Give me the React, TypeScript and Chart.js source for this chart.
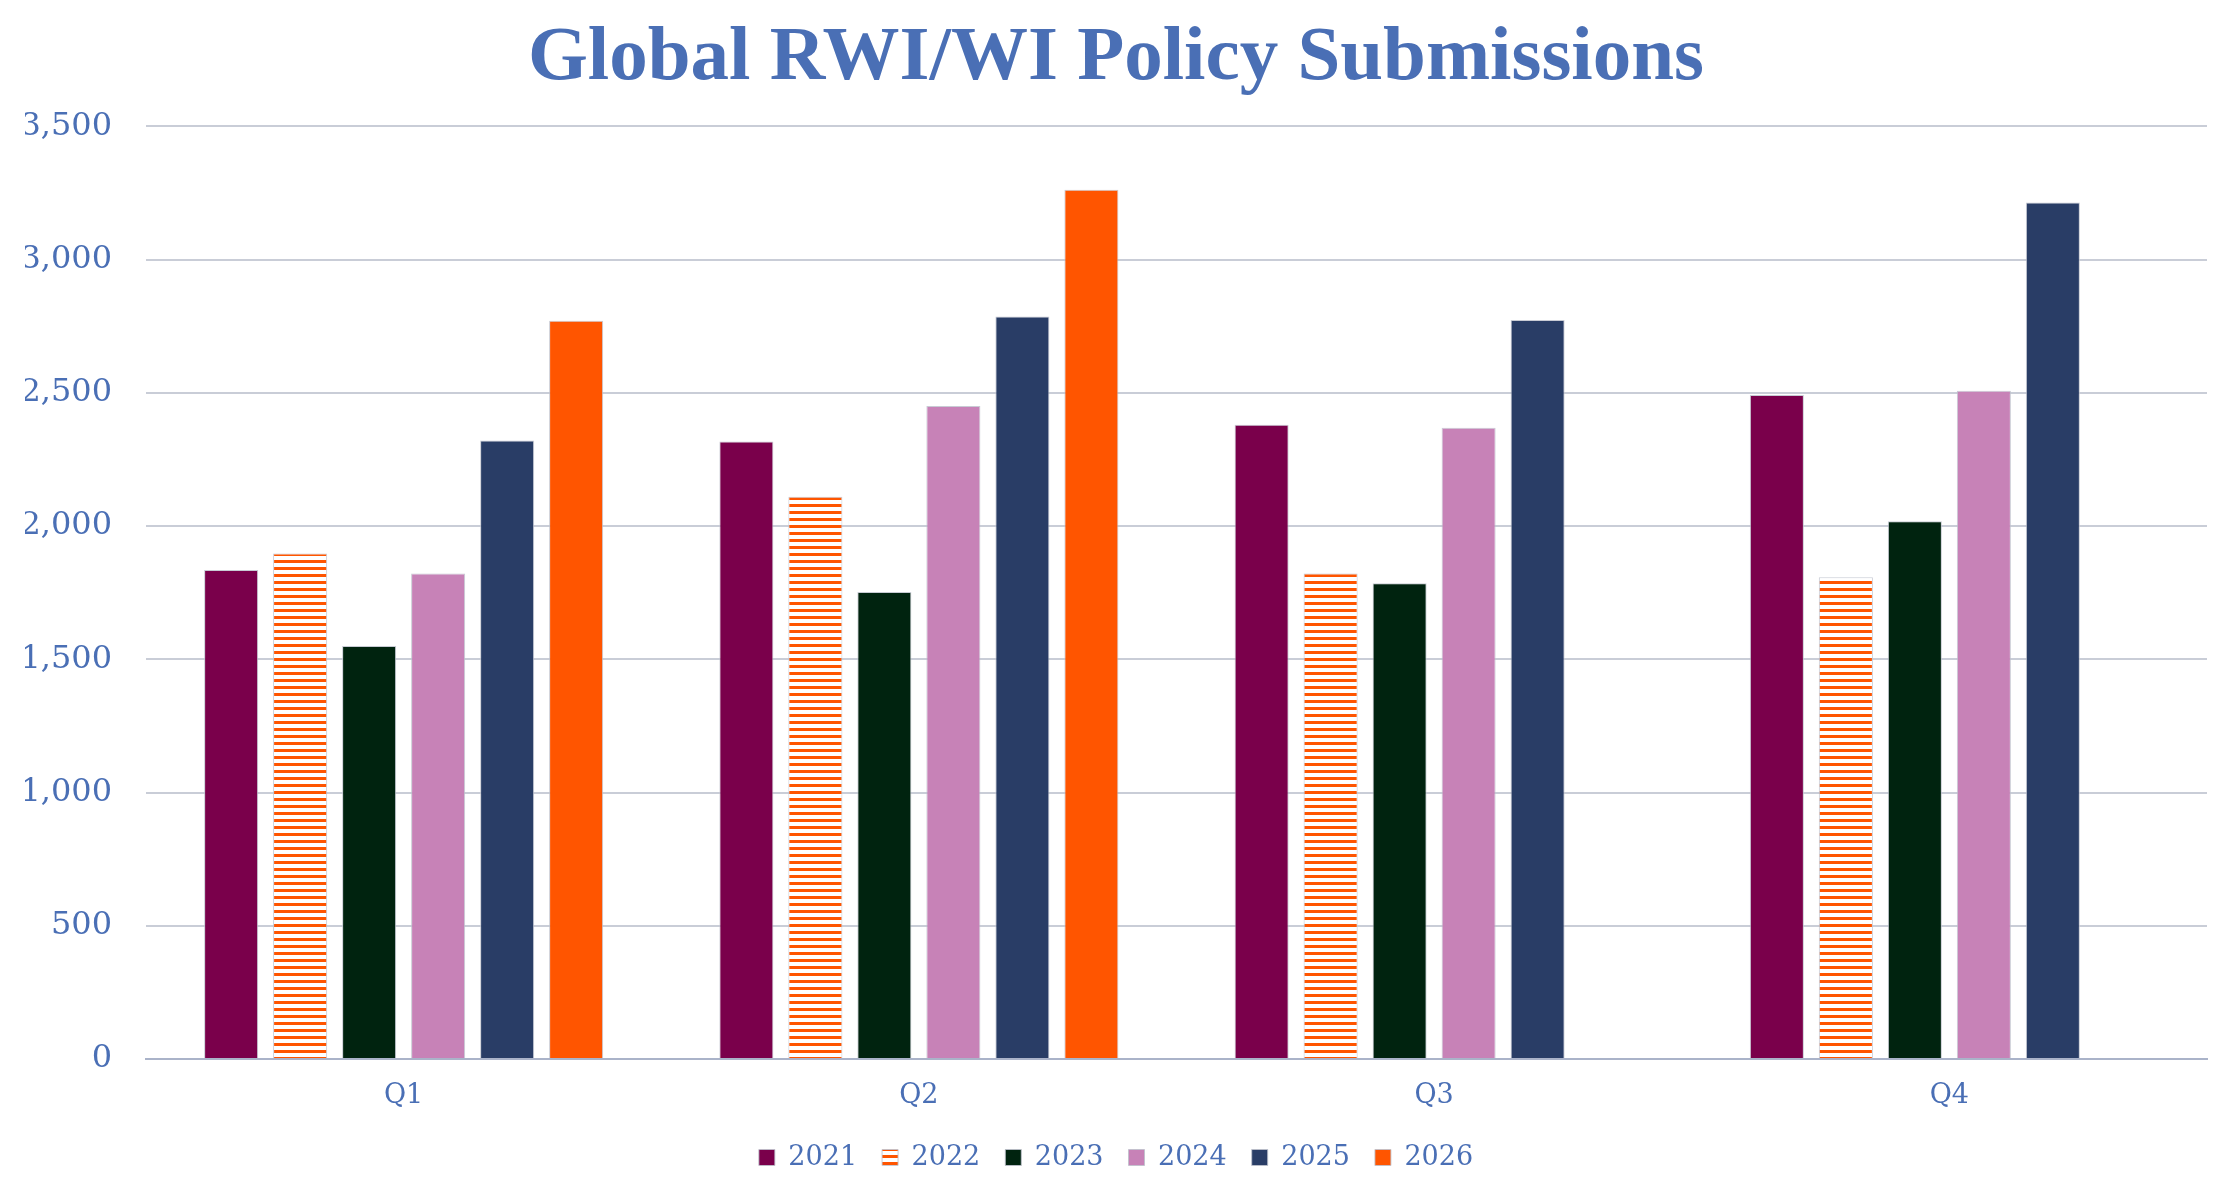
import React, { useEffect, useRef } from 'react';
import { Chart, ChartConfiguration, registerables } from 'chart.js';

Chart.register(...registerables);

const quarters = ['Q1', 'Q2', 'Q3', 'Q4'];
const years = ['2021', '2022', '2023', '2024', '2025', '2026'];

// submissions per quarter, one array per year
const s2021 = [1835, 2317, 2380, 2492];
const s2022 = [1897, 2110, 1822, 1808];
const s2023 = [1550, 1753, 1785, 2018];
const s2024 = [1822, 2451, 2369, 2508];
const s2025 = [2321, 2787, 2773, 3214];
const s2026 = [2771, 3262, null, null];

const yMax = 3500;
const yStep = 500;

const TEXT_BLUE = '#4A6FB5';
const ORANGE = '#FF5500';

// white/orange horizontal stripes for 2022
const makeStripes = (): CanvasPattern | string => {
  const c = document.createElement('canvas');
  c.width = 8;
  c.height = 7;
  const g = c.getContext('2d');
  if (!g) return ORANGE;
  g.fillStyle = '#ffffff';
  g.fillRect(0, 0, 8, 7);
  g.fillStyle = ORANGE;
  g.fillRect(0, 0, 8, 3);
  const p = g.createPattern(c, 'repeat');
  return p ?? ORANGE;
};

const App: React.FC = () => {
  const chartRef = useRef<HTMLCanvasElement | null>(null);
  const chartInstance = useRef<Chart | null>(null);

  useEffect(() => {
    if (!chartRef.current) return;
    if (chartInstance.current) chartInstance.current.destroy();

    const stripes = makeStripes();
    const series = [s2021, s2022, s2023, s2024, s2025, s2026];
    const fills: (string | CanvasPattern)[] = ['#7A004B', stripes, '#00230F', '#C782B7', '#293D66', ORANGE];

    const config: ChartConfiguration<'bar'> = {
      type: 'bar',
      data: {
        labels: quarters,
        datasets: years.map((y, i) => ({
          label: y,
          data: series[i] as (number | null)[],
          backgroundColor: fills[i] as any,
          borderColor: 'rgba(190,194,205,0.85)',
          borderWidth: 1,
          categoryPercentage: 0.8035,
          barPercentage: 0.783,
        })),
      },
      options: {
        responsive: true,
        maintainAspectRatio: false,
        animation: false,
        // equal side padding keeps title and legend centred on the page
        layout: { padding: { left: 25, right: 25, top: 0, bottom: 13 } },
        plugins: {
          title: {
            display: true,
            text: 'Global RWI/WI Policy Submissions',
            color: TEXT_BLUE,
            font: { family: 'Liberation Serif', size: 77, weight: 'bold' },
            padding: { top: 13, bottom: 21 },
          },
          legend: {
            position: 'bottom',
            labels: {
              color: TEXT_BLUE,
              font: { family: 'DejaVu Serif', size: 27 },
              boxWidth: 16,
              boxHeight: 16,
              padding: 25,
            },
          },
          tooltip: { enabled: false },
        },
        scales: {
          x: {
            grid: { display: false },
            border: { display: true, color: '#AAB3C9', width: 2 },
            ticks: {
              color: TEXT_BLUE,
              font: { family: 'DejaVu Serif', size: 27 },
              padding: 13,
            },
            afterFit: (axis: any) => {
              axis.height = 60;
            },
          },
          y: {
            min: 0,
            max: yMax,
            grid: { color: '#C9CDD7', lineWidth: 2, drawTicks: false },
            border: { display: false },
            ticks: {
              stepSize: yStep,
              color: TEXT_BLUE,
              font: { family: 'DejaVu Serif', size: 32 },
              padding: 34,
              callback: (v) => Number(v).toLocaleString('en-US'),
            },
            afterFit: (axis: any) => {
              axis.width = 121;
            },
          },
        },
      },
    };

    chartInstance.current = new Chart(chartRef.current, config);

    return () => {
      if (chartInstance.current) {
        chartInstance.current.destroy();
        chartInstance.current = null;
      }
    };
  }, []);

  return (
    <div style={{ position: 'fixed', left: 0, top: 0, width: '100vw', height: '100vh', background: '#fff' }}>
      <canvas ref={chartRef} />
    </div>
  );
};

export default App;
